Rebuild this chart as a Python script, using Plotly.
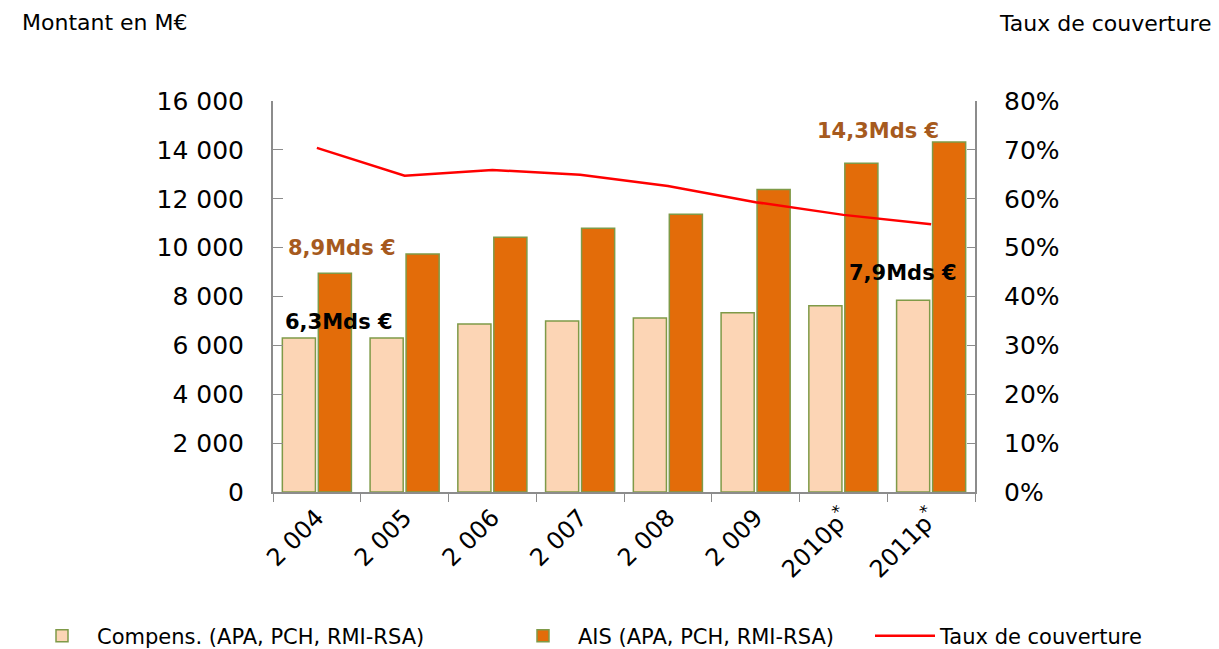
import plotly.graph_objects as go

years = ["2 004", "2 005", "2 006", "2 007", "2 008", "2 009", "2010p<sup>*</sup>", "2011p<sup>*</sup>"]
compens = [6300, 6300, 6870, 7000, 7120, 7340, 7620, 7850]
ais = [8950, 9740, 10420, 10790, 11370, 12380, 13450, 14320]
taux = [0.704, 0.647, 0.659, 0.649, 0.626, 0.593, 0.567, 0.548]

FONT = "DejaVu Sans"
AXIS_GREY = "#8c8c8c"
# page is rendered with an 8px body margin: size the figure so it fits the window
OFF = 8
W, H = 1219 - OFF, 649 - OFF
ML, MR, MT, MB = 273 - OFF, 1219 - 975, 101 - OFF, 649 - 492
PW, PH = W - ML - MR, H - MT - MB


def page_to_paper(px, py):
    return (px - OFF - ML) / PW, (H - MB - (py - OFF)) / PH


def page_to_container(px, py):
    return (px - OFF) / W, 1 - (py - OFF) / H


fig = go.Figure()
fig.add_trace(go.Bar(
    x=years, y=compens, name="Compens. (APA, PCH, RMI-RSA)",
    marker=dict(color="#FCD5B5", line=dict(color="#7F9A48", width=1.5)),
    legend="legend",
))
fig.add_trace(go.Bar(
    x=years, y=ais, name="AIS (APA, PCH, RMI-RSA)",
    marker=dict(color="#E36C09", line=dict(color="#7F9A48", width=1.5)),
    legend="legend2",
))
fig.add_trace(go.Scatter(
    x=years, y=taux, name="Taux de couverture", mode="lines",
    line=dict(color="#FF0000", width=2.5), yaxis="y2",
    legend="legend3",
))

ann_font_brown = dict(family=FONT, size=21, color="#A65A1E")
ann_font_black = dict(family=FONT, size=21, color="#000000")
annotations = [
    dict(x=0.29, y=10000, text="<b>8,9Mds €</b>", font=ann_font_brown),
    dict(x=0.25, y=6950, text="<b>6,3Mds €</b>", font=ann_font_black),
    dict(x=6.39, y=14770, text="<b>14,3Mds €</b>", font=ann_font_brown),
    dict(x=6.68, y=8960, text="<b>7,9Mds €</b>", font=ann_font_black),
]
for a in annotations:
    a.update(xref="x", yref="y", showarrow=False, xanchor="center", yanchor="middle")

lx, ly = page_to_paper(20, 8)
rx, ry = page_to_paper(1214, 9)
annotations += [
    dict(x=lx, y=ly, xref="paper", yref="paper", text="Montant en M€",
         showarrow=False, xanchor="left", yanchor="top",
         font=dict(family=FONT, size=22, color="#000")),
    dict(x=rx, y=ry, xref="paper", yref="paper", text="Taux de couverture",
         showarrow=False, xanchor="right", yanchor="top",
         font=dict(family=FONT, size=22, color="#000")),
]

_, leg_y = page_to_container(0, 636)
legend_common = dict(orientation="h", yanchor="middle", y=leg_y,
                     xref="container", yref="container", itemwidth=60,
                     font=dict(family=FONT, size=21, color="#000"),
                     bgcolor="rgba(0,0,0,0)", xanchor="left")

fig.update_layout(
    width=W, height=H,
    margin=dict(l=ML, r=MR, t=MT, b=MB, autoexpand=False),
    paper_bgcolor="white", plot_bgcolor="white",
    separators=", ",
    barmode="group", bargap=0.18, bargroupgap=0.08,
    font=dict(family=FONT, size=22, color="#000"),
    showlegend=True,
    legend=dict(x=page_to_container(27, 0)[0], **legend_common),
    legend2=dict(x=page_to_container(508, 0)[0], **legend_common),
    legend3=dict(x=page_to_container(870, 0)[0], **legend_common),
    xaxis=dict(
        type="category", tickangle=-45, showline=True, linecolor=AXIS_GREY, linewidth=2,
        ticks="outside", tickson="boundaries", ticklen=8, tickcolor=AXIS_GREY,
        showgrid=False, tickfont=dict(family=FONT, size=24), automargin=False,
    ),
    yaxis=dict(
        range=[0, 16000], dtick=2000, tickformat=",d", showline=True, linecolor=AXIS_GREY,
        linewidth=2, ticks="inside", ticklen=10, tickcolor=AXIS_GREY, showgrid=False,
        zeroline=False, tickfont=dict(family=FONT, size=25), ticklabelstandoff=22,
        automargin=False,
    ),
    yaxis2=dict(
        range=[0, 0.8], dtick=0.1, tickformat=".0%", overlaying="y", side="right",
        showline=True, linecolor=AXIS_GREY, linewidth=2, ticks="inside", ticklen=8,
        tickcolor=AXIS_GREY, showgrid=False, zeroline=False,
        tickfont=dict(family=FONT, size=25), ticklabelstandoff=22, automargin=False,
    ),
    annotations=annotations,
)

fig.write_html("out.html")
